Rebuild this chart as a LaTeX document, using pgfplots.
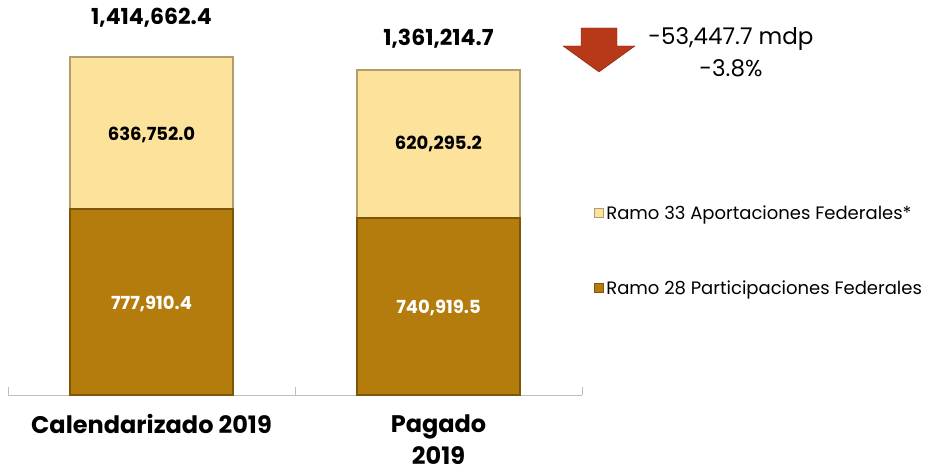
\documentclass[border=0pt]{standalone}
\usepackage{pgfplots}
\pgfplotsset{compat=1.18}
\usepackage{fontspec}
\setmainfont{Poppins}
\definecolor{r33}{HTML}{FDE29B}
\definecolor{r28}{HTML}{B47B0D}
\definecolor{arrowred}{HTML}{B8391A}
\begin{document}
\begin{tikzpicture}[x=1pt,y=1pt]
\path[use as bounding box] (-8,-76) rectangle (930,395);
\begin{axis}[
    at={(0pt,0pt)}, anchor=south west,
    scale only axis,
    width=574pt, height=375pt,
    ybar stacked,
    bar width=163pt,
    xmin=-0.5, xmax=1.5,
    ymin=0, ymax=1570000,
    axis x line*=bottom,
    axis y line=none,
    x axis line style={draw=black!25, line width=0.8pt, -},
    xtick={0,1},
    xticklabels={Calendarizado 2019, {Pagado\\[4pt]2019}},
    xticklabel style={font=\fontsize{24}{28}\selectfont\bfseries, align=center, yshift=-16pt},
    major tick length=0pt,
    extra x ticks={-0.5,0.5,1.5},
    extra x tick labels={},
    extra x tick style={major tick length=8pt, tick style={draw=black!25, line width=0.8pt}},
    clip=false,
    reverse legend,
    legend style={draw=none, fill=none, at={(1.015,0.385)}, anchor=west,
        font=\fontsize{18}{21}\selectfont, row sep=56pt,
        /tikz/every even column/.append style={column sep=4pt}},
    legend cell align=left,
]
\addplot[fill=r28, draw=r28!70!black, line width=1.5pt,
    legend image code/.code={\fill[r28, draw=r28!70!black] (0pt,-4.5pt) rectangle (9pt,4.5pt);}]
    coordinates {(0,777910.4) (1,740919.5)};
\addlegendentry{Ramo 28 Participaciones Federales}
\addplot[fill=r33, draw=r33!70!black, line width=1.5pt,
    legend image code/.code={\fill[r33, draw=r33!70!black] (0pt,-4.5pt) rectangle (9pt,4.5pt);}]
    coordinates {(0,636752.0) (1,620295.2)};
\addlegendentry{Ramo 33 Aportaciones Federales*}

\coordinate (a1) at (axis cs:0,380000);
\coordinate (a2) at (axis cs:1,365000);
\coordinate (b1) at (axis cs:0,1090000);
\coordinate (b2) at (axis cs:1,1051067);
\coordinate (t1) at (axis cs:0,1580000);
\coordinate (t2) at (axis cs:1,1490000);
\end{axis}
\node[font=\fontsize{18}{21}\selectfont\bfseries, text=white] at (a1) {777,910.4};
\node[font=\fontsize{18}{21}\selectfont\bfseries, text=white] at (a2) {740,919.5};
\node[font=\fontsize{18}{21}\selectfont\bfseries] at (b1) {636,752.0};
\node[font=\fontsize{18}{21}\selectfont\bfseries] at (b2) {620,295.2};
\node[font=\fontsize{22}{26}\selectfont\bfseries] at (t1) {1,414,662.4};
\node[font=\fontsize{22}{26}\selectfont\bfseries] at (t2) {1,361,214.7};
% decrease arrow
\fill[arrowred, draw=arrowred!70!black] (573,367) -- (609,367) -- (609,349) -- (627,349) -- (591,323) -- (555,349) -- (573,349) -- cycle;
\node[font=\fontsize{23}{32}\selectfont, align=center, anchor=north] at (723,371) {-53,447.7 mdp\\-3.8\%};
\end{tikzpicture}
\end{document}
